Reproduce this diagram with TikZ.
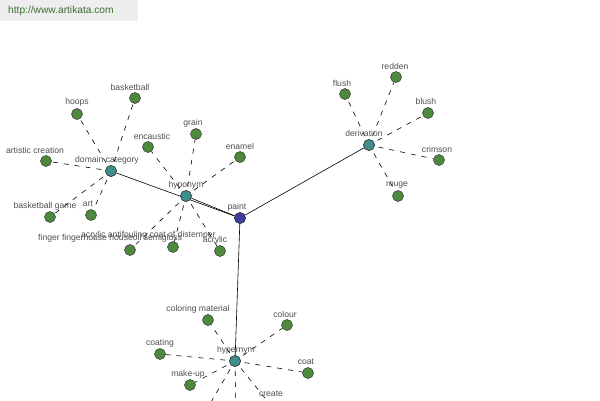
\documentclass[tikz,border=0pt]{standalone}
\usepackage{fontspec}
\setmainfont{Liberation Sans}
\begin{document}
\begin{tikzpicture}[x=1pt,y=-1pt,
  leaf/.style={circle,draw=black!80,fill=leafgreen,minimum size=11pt,inner sep=0pt,line width=0.5pt},
  hub/.style={circle,draw=black!80,fill=hubteal,minimum size=11pt,inner sep=0pt,line width=0.5pt},
  root/.style={circle,draw=black!80,fill=rootblue,minimum size=11pt,inner sep=0pt,line width=0.5pt},
  lbl/.style={text=labelgray,font=\fontsize{8.6}{10}\selectfont,inner sep=0pt},
  rel/.style={draw=black,line width=0.6pt},
  dsh/.style={draw=black,line width=0.6pt,dash pattern=on 5pt off 6pt,dash phase=-4pt}]
\definecolor{leafgreen}{HTML}{4E8A3E}
\definecolor{hubteal}{HTML}{3E8E8C}
\definecolor{rootblue}{HTML}{3C3C9C}
\definecolor{labelgray}{HTML}{505050}
\definecolor{hdrgray}{HTML}{EEEEEE}
\definecolor{hdrgreen}{HTML}{3A6E2E}
\useasboundingbox (0,0) rectangle (600,400);
\clip (0,0) rectangle (600,400);
\fill[white] (0,0) rectangle (600,400);
\fill[hdrgray] (0,0) rectangle (138,21);
\node[anchor=west,text=hdrgreen,font=\fontsize{10.2}{11}\selectfont,inner sep=0pt] (hdr) at (8,11) {http://www.artikata.com};

% hubs
\node[root] (paint) at (240,218) {};
\node[hub] (hypo) at (186,196) {};
\node[hub] (dom) at (111,171) {};
\node[hub] (der) at (369,145) {};
\node[hub] (hyper) at (235,361) {};

% leaves: domain category
\node[leaf] (hoops) at (77,114) {};
\node[leaf] (bball) at (135,98) {};
\node[leaf] (artc) at (46,161) {};
\node[leaf] (bgame) at (50,217) {};
\node[leaf] (art) at (91,215) {};
% hyponym
\node[leaf] (enc) at (148,147) {};
\node[leaf] (grain) at (196,134) {};
\node[leaf] (enamel) at (240,157) {};
\node[leaf] (h1) at (130,250) {};
\node[leaf] (h2) at (173,247) {};
\node[leaf] (h3) at (220,251) {};
% derivation
\node[leaf] (flush) at (345,94) {};
\node[leaf] (redden) at (396,77) {};
\node[leaf] (blush) at (428,113) {};
\node[leaf] (crimson) at (439,160) {};
\node[leaf] (rouge) at (398,196) {};
% hypernym
\node[leaf] (colmat) at (208,320) {};
\node[leaf] (colour) at (287,325) {};
\node[leaf] (coating) at (160,354) {};
\node[leaf] (coat) at (308,373) {};
\node[leaf] (makeup) at (190,385) {};
\node[leaf] (create) at (273,408) {};
\node[leaf] (hx1) at (204,414) {};
\node[leaf] (hx2) at (236,416) {};

% edges
\draw[rel] (paint) -- (dom);
\draw[rel] (paint) -- (hypo);
\draw[rel] (paint) -- (der);
\draw[rel] (paint) -- (hyper);
\foreach \l in {hoops,bball,artc,bgame,art} \draw[dsh] (dom) -- (\l);
\foreach \l in {enc,grain,enamel,h1,h2,h3} \draw[dsh] (hypo) -- (\l);
\foreach \l in {flush,redden,blush,crimson,rouge} \draw[dsh] (der) -- (\l);
\foreach \l in {colmat,colour,coating,coat,makeup,create,hx1,hx2} \draw[dsh] (hyper) -- (\l);

% redraw hubs over edges
\foreach \n/\s/\x/\y in {paint/root/240/218,hypo/hub/186/196,dom/hub/111/171,der/hub/369/145,hyper/hub/235/361}
  \node[\s] at (\x,\y) {};

% labels
\node[lbl] (Lpaint) at (237,207) {paint};
\node[lbl] (Lhypo) at (186,185) {hyponym};
\node[lbl] (Ldom) at (107,160) {domain category};
\node[lbl] (Lder) at (364,133) {derivation};
\node[lbl] (Lhyper) at (236,350) {hypernym};
\node[lbl] (Lhoops) at (77,102) {hoops};
\node[lbl] (Lbball) at (130,87) {basketball};
\node[lbl] (Lartc) at (35,150) {artistic creation};
\node[lbl] (Lbgame) at (45,206) {basketball game};
\node[lbl] (Lart) at (88,204) {art};
\node[lbl] (Lenc) at (152,136) {encaustic};
\node[lbl] (Lgrain) at (193,123) {grain};
\node[lbl] (Lenamel) at (240,146) {enamel};
\node[lbl,anchor=west] (Lh1) at (38,238) {finger fingerhouse houseoil semigloss};
\node[lbl,anchor=west] (Lh2) at (81,235) {acrylic antifouling coat of distemper};
\node[lbl] (Lh3) at (215,240) {acrylic};
\node[lbl] (Lflush) at (342,83) {flush};
\node[lbl] (Lredden) at (395,66) {redden};
\node[lbl] (Lblush) at (426,101) {blush};
\node[lbl] (Lcrimson) at (437,149) {crimson};
\node[lbl] (Lrouge) at (397,185) {rouge};
\node[lbl] (Lcolmat) at (198,309) {coloring material};
\node[lbl] (Lcolour) at (285,314) {colour};
\node[lbl] (Lcoating) at (160,343) {coating};
\node[lbl] (Lcoat) at (306,362) {coat};
\node[lbl] (Lmakeup) at (188,374) {make-up};
\node[lbl] (Lcreate) at (271,394) {create};
\end{tikzpicture}
\end{document}
